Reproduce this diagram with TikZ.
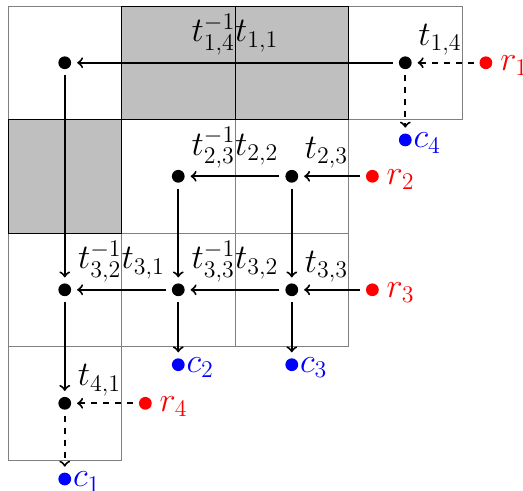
\documentclass[tikz,border=0pt]{standalone}
\begin{document}
\begin{tikzpicture}[x=2cm,y=2cm,
  dot/.style={circle,fill=black,inner sep=0pt,minimum size=6.4pt,outer sep=3pt},
  rdot/.style={dot,fill=red},
  bdot/.style={dot,fill=blue},
  cell/.style={draw=gray,line width=0.5pt},
  graycell/.style={draw=black,fill=lightgray,line width=0.5pt},
  arr/.style={->,line width=1pt},
  darr/.style={->,line width=1pt,dashed},
  lab/.style={midway,above,font=\LARGE},
  slab/.style={pos=0.6,above,font=\LARGE},
  rlab/.style={anchor=base west,inner sep=0pt,text=red,font=\LARGE},
  clab/.style={anchor=base west,inner sep=0pt,text=blue,font=\LARGE}]
\useasboundingbox (-0.0705,0.0529) rectangle (4.537,-4.264);
% grid
\foreach \c/\r in {0/0,3/0,1/1,2/1,0/2,1/2,2/2,0/3}
  \draw[cell] (\c,-\r) rectangle ++(1,-1);
\foreach \c/\r in {1/0,2/0,0/1}
  \draw[graycell] (\c,-\r) rectangle ++(1,-1);
% nodes
\node[dot] (a11) at (0.5,-0.5) {};
\node[dot] (a14) at (3.5,-0.5) {};
\node[dot] (a22) at (1.5,-1.5) {};
\node[dot] (a23) at (2.5,-1.5) {};
\node[dot] (a31) at (0.5,-2.5) {};
\node[dot] (a32) at (1.5,-2.5) {};
\node[dot] (a33) at (2.5,-2.5) {};
\node[dot] (a41) at (0.5,-3.5) {};
\node[rdot] (r1) at (4.21,-0.5) {};
\node[rdot] (r2) at (3.21,-1.5) {};
\node[rdot] (r3) at (3.21,-2.5) {};
\node[rdot] (r4) at (1.21,-3.5) {};
\node[bdot] (c4) at (3.5,-1.18) {};
\node[bdot] (c2) at (1.5,-3.16) {};
\node[bdot] (c3) at (2.5,-3.16) {};
\node[bdot] (c1) at (0.5,-4.167) {};
% r and c labels
\node[rlab] (r1t) at ([xshift=7pt,yshift=-4pt]r1.center) {$r_1$};
\node[rlab] (r2t) at ([xshift=7pt,yshift=-4pt]r2.center) {$r_2$};
\node[rlab] (r3t) at ([xshift=7pt,yshift=-4pt]r3.center) {$r_3$};
\node[rlab] (r4t) at ([xshift=7pt,yshift=-4pt]r4.center) {$r_4$};
\node[clab] (c1t) at ([xshift=4pt,yshift=-4pt]c1.center) {$c_1$};
\node[clab] (c2t) at ([xshift=4pt,yshift=-4pt]c2.center) {$c_2$};
\node[clab] (c3t) at ([xshift=4pt,yshift=-4pt]c3.center) {$c_3$};
\node[clab] (c4t) at ([xshift=4pt,yshift=-4pt]c4.center) {$c_4$};
% connectors
\draw[darr] (r1) -- node[slab]{$t_{1,4}$} (a14);
\draw[arr] (a14) -- node[lab]{$t^{-1}_{1,4}t_{1,1}$} (a11);
\draw[darr] (a14) -- (c4);
\draw[arr] (a11) -- (a31);
\draw[arr] (r2) -- node[slab]{$t_{2,3}$} (a23);
\draw[arr] (a23) -- node[lab]{$t^{-1}_{2,3}t_{2,2}$} (a22);
\draw[arr] (a22) -- (a32);
\draw[arr] (a23) -- (a33);
\draw[arr] (r3) -- node[slab]{$t_{3,3}$} (a33);
\draw[arr] (a33) -- node[lab]{$t^{-1}_{3,3}t_{3,2}$} (a32);
\draw[arr] (a32) -- node[lab]{$t^{-1}_{3,2}t_{3,1}$} (a31);
\draw[arr] (a32) -- (c2);
\draw[arr] (a33) -- (c3);
\draw[arr] (a31) -- (a41);
\draw[darr] (r4) -- node[slab]{$t_{4,1}$} (a41);
\draw[darr] (a41) -- (c1);
\end{tikzpicture}
\end{document}
